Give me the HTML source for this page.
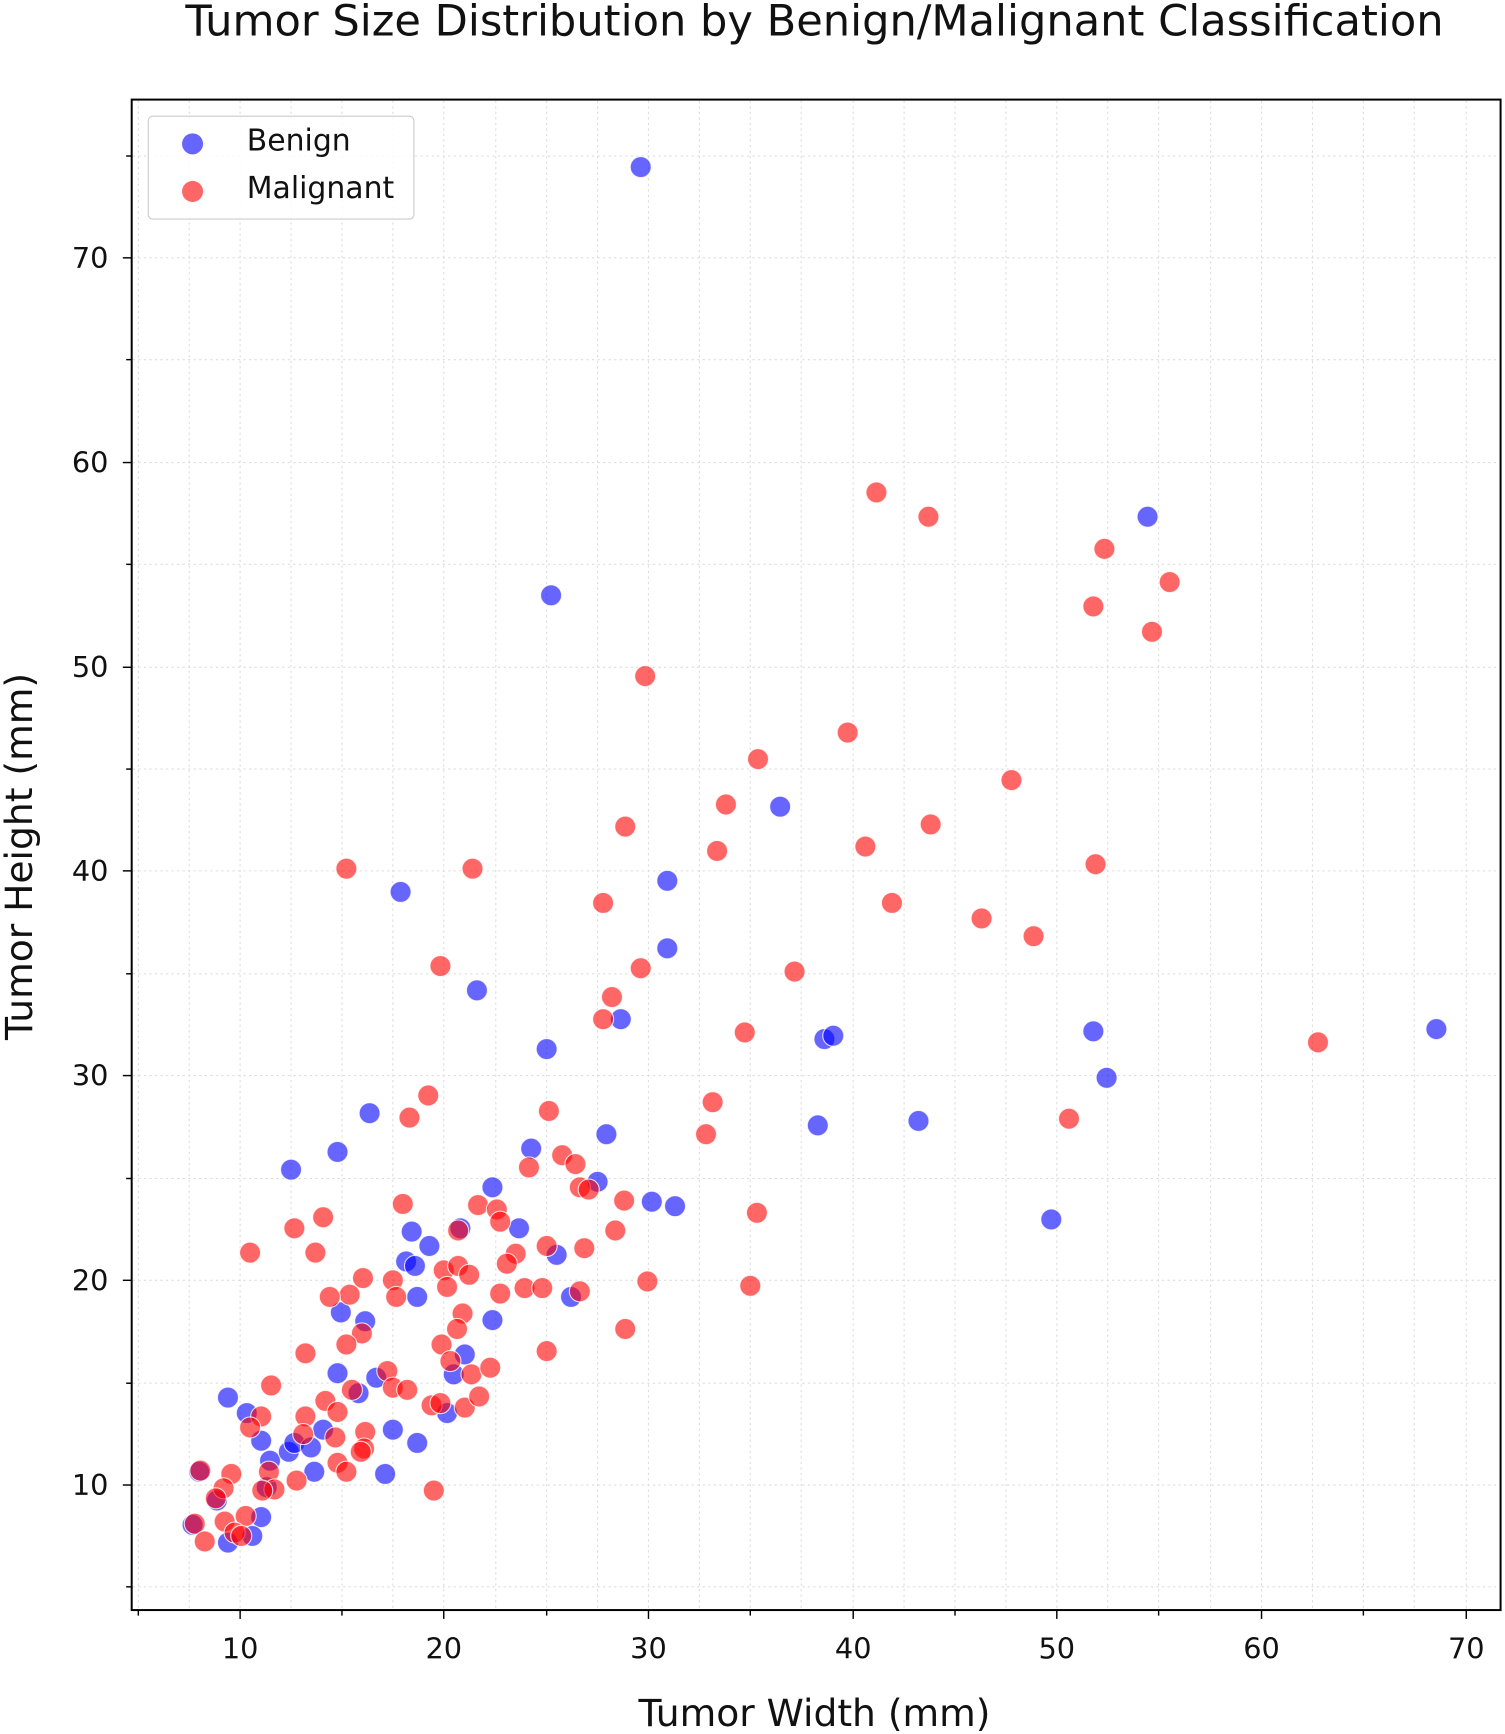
<!DOCTYPE html>
<html><head><meta charset="utf-8"><style>html,body{margin:0;padding:0;background:#fff}svg{display:block}</style></head><body>
<svg width="1505" height="1734" viewBox="0 0 1360 1567" preserveAspectRatio="none" xmlns="http://www.w3.org/2000/svg" font-family="'DejaVu Sans', 'Liberation Sans', sans-serif">
<rect width="1360" height="1567" fill="#fff"/>
<text x="736" y="32" font-size="39" text-anchor="middle" fill="#111">Tumor Size Distribution by Benign/Malignant Classification</text>
<g stroke="#ddd" stroke-width="1" stroke-dasharray="2,3">
<line x1="125" y1="91" x2="125" y2="1454"/><line x1="171" y1="91" x2="171" y2="1454"/><line x1="217" y1="91" x2="217" y2="1454"/><line x1="263" y1="91" x2="263" y2="1454"/><line x1="309" y1="91" x2="309" y2="1454"/><line x1="355" y1="91" x2="355" y2="1454"/><line x1="401" y1="91" x2="401" y2="1454"/><line x1="448" y1="91" x2="448" y2="1454"/><line x1="494" y1="91" x2="494" y2="1454"/><line x1="540" y1="91" x2="540" y2="1454"/><line x1="586" y1="91" x2="586" y2="1454"/><line x1="632" y1="91" x2="632" y2="1454"/><line x1="678" y1="91" x2="678" y2="1454"/><line x1="724" y1="91" x2="724" y2="1454"/><line x1="771" y1="91" x2="771" y2="1454"/><line x1="817" y1="91" x2="817" y2="1454"/><line x1="863" y1="91" x2="863" y2="1454"/><line x1="909" y1="91" x2="909" y2="1454"/><line x1="955" y1="91" x2="955" y2="1454"/><line x1="1001" y1="91" x2="1001" y2="1454"/><line x1="1047" y1="91" x2="1047" y2="1454"/><line x1="1094" y1="91" x2="1094" y2="1454"/><line x1="1140" y1="91" x2="1140" y2="1454"/><line x1="1186" y1="91" x2="1186" y2="1454"/><line x1="1232" y1="91" x2="1232" y2="1454"/><line x1="1278" y1="91" x2="1278" y2="1454"/><line x1="1325" y1="91" x2="1325" y2="1454"/>
<line x1="120" y1="1434" x2="1356" y2="1434"/><line x1="120" y1="1342" x2="1356" y2="1342"/><line x1="120" y1="1250" x2="1356" y2="1250"/><line x1="120" y1="1157" x2="1356" y2="1157"/><line x1="120" y1="1065" x2="1356" y2="1065"/><line x1="120" y1="972" x2="1356" y2="972"/><line x1="120" y1="880" x2="1356" y2="880"/><line x1="120" y1="787" x2="1356" y2="787"/><line x1="120" y1="695" x2="1356" y2="695"/><line x1="120" y1="603" x2="1356" y2="603"/><line x1="120" y1="510" x2="1356" y2="510"/><line x1="120" y1="418" x2="1356" y2="418"/><line x1="120" y1="325" x2="1356" y2="325"/><line x1="120" y1="233" x2="1356" y2="233"/><line x1="120" y1="141" x2="1356" y2="141"/>
</g>
<g fill="rgba(0,0,255,0.6)" stroke="rgba(255,255,255,0.8)" stroke-width="1">
<circle cx="579" cy="151" r="9.5"/><circle cx="498" cy="538" r="9.5"/><circle cx="1037" cy="467" r="9.5"/><circle cx="705" cy="729" r="9.5"/><circle cx="603" cy="796" r="9.5"/><circle cx="603" cy="857" r="9.5"/><circle cx="362" cy="806" r="9.5"/><circle cx="431" cy="895" r="9.5"/><circle cx="494" cy="948" r="9.5"/><circle cx="561" cy="921" r="9.5"/><circle cx="745" cy="939" r="9.5"/><circle cx="753" cy="936" r="9.5"/><circle cx="988" cy="932" r="9.5"/><circle cx="1000" cy="974" r="9.5"/><circle cx="1298" cy="930" r="9.5"/><circle cx="739" cy="1017" r="9.5"/><circle cx="830" cy="1013" r="9.5"/><circle cx="950" cy="1102" r="9.5"/><circle cx="334" cy="1006" r="9.5"/><circle cx="305" cy="1041" r="9.5"/><circle cx="263" cy="1057" r="9.5"/><circle cx="548" cy="1025" r="9.5"/><circle cx="480" cy="1038" r="9.5"/><circle cx="445" cy="1073" r="9.5"/><circle cx="540" cy="1068" r="9.5"/><circle cx="589" cy="1086" r="9.5"/><circle cx="610" cy="1090" r="9.5"/><circle cx="469" cy="1110" r="9.5"/><circle cx="503" cy="1134" r="9.5"/><circle cx="516" cy="1172" r="9.5"/><circle cx="445" cy="1193" r="9.5"/><circle cx="372" cy="1113" r="9.5"/><circle cx="388" cy="1126" r="9.5"/><circle cx="367" cy="1140" r="9.5"/><circle cx="375" cy="1144" r="9.5"/><circle cx="377" cy="1172" r="9.5"/><circle cx="416" cy="1110" r="9.5"/><circle cx="420" cy="1224" r="9.5"/><circle cx="410" cy="1242" r="9.5"/><circle cx="404" cy="1277" r="9.5"/><circle cx="330" cy="1194" r="9.5"/><circle cx="308" cy="1186" r="9.5"/><circle cx="305" cy="1241" r="9.5"/><circle cx="324" cy="1259" r="9.5"/><circle cx="340" cy="1245" r="9.5"/><circle cx="348" cy="1332" r="9.5"/><circle cx="355" cy="1292" r="9.5"/><circle cx="377" cy="1304" r="9.5"/><circle cx="206" cy="1263" r="9.5"/><circle cx="223" cy="1277" r="9.5"/><circle cx="236" cy="1302" r="9.5"/><circle cx="244" cy="1320" r="9.5"/><circle cx="261" cy="1312" r="9.5"/><circle cx="266" cy="1304" r="9.5"/><circle cx="281" cy="1308" r="9.5"/><circle cx="292" cy="1292" r="9.5"/><circle cx="284" cy="1330" r="9.5"/><circle cx="241" cy="1344" r="9.5"/><circle cx="236" cy="1371" r="9.5"/><circle cx="196" cy="1356" r="9.5"/><circle cx="206" cy="1394" r="9.5"/><circle cx="180" cy="1330" r="9.5"/><circle cx="174" cy="1378" r="9.5"/><circle cx="228" cy="1388" r="9.5"/>
</g>
<g fill="rgba(255,0,0,0.6)" stroke="rgba(255,255,255,0.8)" stroke-width="1">
<circle cx="792" cy="445" r="9.5"/><circle cx="839" cy="467" r="9.5"/><circle cx="998" cy="496" r="9.5"/><circle cx="988" cy="548" r="9.5"/><circle cx="1057" cy="526" r="9.5"/><circle cx="1041" cy="571" r="9.5"/><circle cx="583" cy="611" r="9.5"/><circle cx="766" cy="662" r="9.5"/><circle cx="685" cy="686" r="9.5"/><circle cx="914" cy="705" r="9.5"/><circle cx="656" cy="727" r="9.5"/><circle cx="565" cy="747" r="9.5"/><circle cx="841" cy="745" r="9.5"/><circle cx="648" cy="769" r="9.5"/><circle cx="782" cy="765" r="9.5"/><circle cx="990" cy="781" r="9.5"/><circle cx="313" cy="785" r="9.5"/><circle cx="427" cy="785" r="9.5"/><circle cx="545" cy="816" r="9.5"/><circle cx="806" cy="816" r="9.5"/><circle cx="887" cy="830" r="9.5"/><circle cx="934" cy="846" r="9.5"/><circle cx="398" cy="873" r="9.5"/><circle cx="579" cy="875" r="9.5"/><circle cx="718" cy="878" r="9.5"/><circle cx="553" cy="901" r="9.5"/><circle cx="545" cy="921" r="9.5"/><circle cx="673" cy="933" r="9.5"/><circle cx="1191" cy="942" r="9.5"/><circle cx="387" cy="990" r="9.5"/><circle cx="370" cy="1010" r="9.5"/><circle cx="496" cy="1004" r="9.5"/><circle cx="644" cy="996" r="9.5"/><circle cx="638" cy="1025" r="9.5"/><circle cx="966" cy="1011" r="9.5"/><circle cx="364" cy="1088" r="9.5"/><circle cx="266" cy="1110" r="9.5"/><circle cx="292" cy="1100" r="9.5"/><circle cx="508" cy="1044" r="9.5"/><circle cx="520" cy="1052" r="9.5"/><circle cx="478" cy="1055" r="9.5"/><circle cx="524" cy="1073" r="9.5"/><circle cx="532" cy="1075" r="9.5"/><circle cx="564" cy="1085" r="9.5"/><circle cx="556" cy="1112" r="9.5"/><circle cx="684" cy="1096" r="9.5"/><circle cx="414" cy="1112" r="9.5"/><circle cx="432" cy="1089" r="9.5"/><circle cx="449" cy="1093" r="9.5"/><circle cx="452" cy="1104" r="9.5"/><circle cx="466" cy="1133" r="9.5"/><circle cx="458" cy="1142" r="9.5"/><circle cx="494" cy="1126" r="9.5"/><circle cx="528" cy="1128" r="9.5"/><circle cx="226" cy="1132" r="9.5"/><circle cx="285" cy="1132" r="9.5"/><circle cx="401" cy="1148" r="9.5"/><circle cx="414" cy="1144" r="9.5"/><circle cx="424" cy="1152" r="9.5"/><circle cx="355" cy="1157" r="9.5"/><circle cx="328" cy="1155" r="9.5"/><circle cx="316" cy="1170" r="9.5"/><circle cx="298" cy="1172" r="9.5"/><circle cx="358" cy="1172" r="9.5"/><circle cx="404" cy="1163" r="9.5"/><circle cx="474" cy="1164" r="9.5"/><circle cx="452" cy="1169" r="9.5"/><circle cx="490" cy="1164" r="9.5"/><circle cx="524" cy="1167" r="9.5"/><circle cx="585" cy="1158" r="9.5"/><circle cx="678" cy="1162" r="9.5"/><circle cx="565" cy="1201" r="9.5"/><circle cx="494" cy="1221" r="9.5"/><circle cx="327" cy="1205" r="9.5"/><circle cx="313" cy="1215" r="9.5"/><circle cx="418" cy="1187" r="9.5"/><circle cx="413" cy="1201" r="9.5"/><circle cx="399" cy="1215" r="9.5"/><circle cx="407" cy="1230" r="9.5"/><circle cx="426" cy="1242" r="9.5"/><circle cx="443" cy="1236" r="9.5"/><circle cx="276" cy="1223" r="9.5"/><circle cx="245" cy="1252" r="9.5"/><circle cx="350" cy="1239" r="9.5"/><circle cx="355" cy="1254" r="9.5"/><circle cx="318" cy="1256" r="9.5"/><circle cx="294" cy="1266" r="9.5"/><circle cx="305" cy="1276" r="9.5"/><circle cx="368" cy="1256" r="9.5"/><circle cx="330" cy="1294" r="9.5"/><circle cx="390" cy="1270" r="9.5"/><circle cx="398" cy="1268" r="9.5"/><circle cx="420" cy="1272" r="9.5"/><circle cx="433" cy="1262" r="9.5"/><circle cx="236" cy="1280" r="9.5"/><circle cx="226" cy="1290" r="9.5"/><circle cx="276" cy="1280" r="9.5"/><circle cx="274" cy="1296" r="9.5"/><circle cx="303" cy="1299" r="9.5"/><circle cx="329" cy="1309" r="9.5"/><circle cx="305" cy="1322" r="9.5"/><circle cx="313" cy="1330" r="9.5"/><circle cx="326" cy="1312" r="9.5"/><circle cx="392" cy="1347" r="9.5"/><circle cx="243" cy="1330" r="9.5"/><circle cx="268" cy="1338" r="9.5"/><circle cx="248" cy="1346" r="9.5"/><circle cx="237" cy="1347" r="9.5"/><circle cx="209" cy="1332" r="9.5"/><circle cx="202" cy="1345" r="9.5"/><circle cx="195" cy="1354" r="9.5"/><circle cx="222" cy="1370" r="9.5"/><circle cx="203" cy="1375" r="9.5"/><circle cx="212" cy="1385" r="9.5"/><circle cx="218" cy="1388" r="9.5"/><circle cx="176" cy="1377" r="9.5"/><circle cx="185" cy="1393" r="9.5"/><circle cx="181" cy="1329" r="9.5"/>
</g>
<rect x="119" y="90" width="1237" height="1365" fill="none" stroke="#000" stroke-width="1.8"/>
<g stroke="#000" stroke-width="1.3">
<line x1="217" y1="1455" x2="217" y2="1463"/><line x1="401" y1="1455" x2="401" y2="1463"/><line x1="586" y1="1455" x2="586" y2="1463"/><line x1="771" y1="1455" x2="771" y2="1463"/><line x1="955" y1="1455" x2="955" y2="1463"/><line x1="1140" y1="1455" x2="1140" y2="1463"/><line x1="1325" y1="1455" x2="1325" y2="1463"/>
<line x1="125" y1="1455" x2="125" y2="1460"/><line x1="309" y1="1455" x2="309" y2="1460"/><line x1="494" y1="1455" x2="494" y2="1460"/><line x1="678" y1="1455" x2="678" y2="1460"/><line x1="863" y1="1455" x2="863" y2="1460"/><line x1="1047" y1="1455" x2="1047" y2="1460"/><line x1="1232" y1="1455" x2="1232" y2="1460"/>
<line x1="111" y1="1342" x2="119" y2="1342"/><line x1="111" y1="1157" x2="119" y2="1157"/><line x1="111" y1="972" x2="119" y2="972"/><line x1="111" y1="787" x2="119" y2="787"/><line x1="111" y1="603" x2="119" y2="603"/><line x1="111" y1="418" x2="119" y2="418"/><line x1="111" y1="233" x2="119" y2="233"/>
<line x1="114" y1="1434" x2="119" y2="1434"/><line x1="114" y1="1250" x2="119" y2="1250"/><line x1="114" y1="1065" x2="119" y2="1065"/><line x1="114" y1="880" x2="119" y2="880"/><line x1="114" y1="695" x2="119" y2="695"/><line x1="114" y1="510" x2="119" y2="510"/><line x1="114" y1="325" x2="119" y2="325"/><line x1="114" y1="141" x2="119" y2="141"/>
</g>
<g font-size="26" fill="#111" text-anchor="middle">
<text x="217" y="1499">10</text><text x="401" y="1499">20</text><text x="586" y="1499">30</text><text x="771" y="1499">40</text><text x="955" y="1499">50</text><text x="1140" y="1499">60</text><text x="1325" y="1499">70</text>
</g>
<g font-size="26" fill="#111" text-anchor="end">
<text x="98" y="1351">10</text><text x="98" y="1166">20</text><text x="98" y="981">30</text><text x="98" y="796">40</text><text x="98" y="612">50</text><text x="98" y="427">60</text><text x="98" y="242">70</text>
</g>
<text x="736" y="1560" font-size="34" text-anchor="middle" fill="#111">Tumor Width (mm)</text>
<text transform="translate(29,774) rotate(-90)" font-size="34" text-anchor="middle" fill="#111">Tumor Height (mm)</text>
<rect x="134" y="105" width="240" height="93" rx="4" fill="rgba(255,255,255,0.85)" stroke="#ccc" stroke-width="1"/>
<circle cx="174" cy="130" r="9.5" fill="rgba(0,0,255,0.6)"/>
<circle cx="174" cy="173" r="9.5" fill="rgba(255,0,0,0.6)"/>
<text x="223" y="136" font-size="27" fill="#111">Benign</text>
<text x="223" y="179" font-size="27" fill="#111">Malignant</text>
</svg>
</body></html>
